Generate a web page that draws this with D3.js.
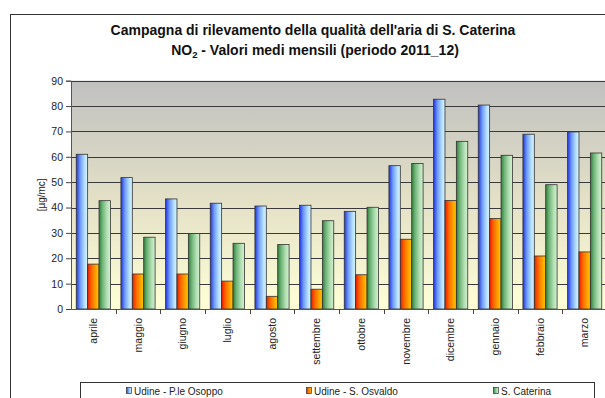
<!DOCTYPE html>
<html>
<head>
<meta charset="utf-8">
<script src="https://cdn.jsdelivr.net/npm/d3@7"></script>
<style>
  html, body { margin: 0; padding: 0; background: #fff; }
  svg { display: block; font-family: "Liberation Sans", Arial, sans-serif; }
</style>
</head>
<body>
<svg id="chart" width="605" height="398"></svg>
<script>
// Monthly means of NO2 (µg/mc), April 2011 – March 2012
const months = ["aprile", "maggio", "giugno", "luglio", "agosto", "settembre",
                "ottobre", "novembre", "dicembre", "gennaio", "febbraio", "marzo"];
const seriesNames = ["Udine - P.le Osoppo", "Udine - S. Osvaldo", "S. Caterina"];
const osoppo  = [61.0, 51.8, 43.4, 41.7, 40.6, 40.9, 38.5, 56.5, 82.7, 80.4, 68.9, 69.8];
const osvaldo = [17.7, 13.8, 13.8, 11.0,  5.0,  7.8, 13.5, 27.5, 42.8, 35.7, 20.9, 22.5];
const caterina = [42.7, 28.3, 29.8, 25.9, 25.4, 34.8, 40.1, 57.4, 66.1, 60.6, 49.0, 61.5];
const yTicks = [0, 10, 20, 30, 40, 50, 60, 70, 80, 90];

const seriesValues = [osoppo, osvaldo, caterina];

const svg = d3.select("#chart");
const margin = { left: 71, right: 607, top: 80.7, bottom: 309 };

// gradients
const defs = svg.append("defs");
const bg = defs.append("linearGradient").attr("id", "plotBg")
  .attr("x1", 0).attr("y1", 0).attr("x2", 0).attr("y2", 1);
bg.append("stop").attr("offset", "0%").attr("stop-color", "#c0c0c0");
bg.append("stop").attr("offset", "50%").attr("stop-color", "#e2dfc6");
bg.append("stop").attr("offset", "100%").attr("stop-color", "#ffffd6");

const barStops = [
  [["0%", "#2233dd"], ["35%", "#6f9cf6"], ["75%", "#b8e2ff"], ["100%", "#d8f4ff"]],
  [["0%", "#ee1a00"], ["35%", "#ff6a00"], ["75%", "#ffa800"], ["100%", "#ffc800"]],
  [["0%", "#2f7d3a"], ["30%", "#6fb478"], ["70%", "#b4e0b4"], ["100%", "#d4f0d0"]]
];
barStops.forEach((stops, i) => {
  const g = defs.append("linearGradient").attr("id", "bar" + i)
    .attr("x1", 0).attr("y1", 0).attr("x2", 1).attr("y2", 0);
  stops.forEach(s => g.append("stop").attr("offset", s[0]).attr("stop-color", s[1]));
});

// outer frame
svg.append("rect").attr("x", 10.5).attr("y", 14.5).attr("width", 620).attr("height", 420)
  .attr("fill", "#fff").attr("stroke", "#333").attr("stroke-width", 1);

// titles
svg.append("text").attr("x", 313).attr("y", 35).attr("text-anchor", "middle")
  .attr("font-size", "14px").attr("font-weight", "bold").attr("fill", "#111")
  .text("Campagna di rilevamento della qualità dell'aria di S. Caterina");
const t2 = svg.append("text").attr("x", 315).attr("y", 55).attr("text-anchor", "middle")
  .attr("font-size", "14px").attr("font-weight", "bold").attr("fill", "#111");
t2.append("tspan").text("NO");
t2.append("tspan").attr("font-size", "9.5px").attr("dy", 3).text("2");
t2.append("tspan").attr("dy", -3).text(" - Valori medi mensili (periodo 2011_12)");

// scales
const x0 = d3.scaleBand().domain(months).range([margin.left, margin.right]).padding(0);
const x1 = d3.scaleBand().domain(d3.range(3)).range([0, x0.bandwidth()])
  .paddingInner(0).paddingOuter(0.46);
const y = d3.scaleLinear().domain([0, 90]).range([margin.bottom, margin.top]);

// plot area
svg.append("rect").attr("x", margin.left).attr("y", margin.top)
  .attr("width", margin.right - margin.left).attr("height", margin.bottom - margin.top)
  .attr("fill", "url(#plotBg)");

// gridlines
svg.append("g").selectAll("line").data(yTicks.filter(d => d > 0)).join("line")
  .attr("x1", margin.left).attr("x2", margin.right)
  .attr("y1", d => Math.round(y(d)) + 0.5).attr("y2", d => Math.round(y(d)) + 0.5)
  .attr("stroke", "#3a3a3a").attr("stroke-width", 1);

// bars
const groups = svg.append("g").selectAll("g").data(months).join("g")
  .attr("transform", d => `translate(${x0(d)},0)`);
groups.selectAll("rect").data((m, i) => seriesValues.map((vals, s) => ({ s, v: vals[i] })))
  .join("rect")
  .attr("x", d => x1(d.s))
  .attr("y", d => y(d.v))
  .attr("width", x1.bandwidth())
  .attr("height", d => y(0) - y(d.v))
  .attr("fill", d => `url(#bar${d.s})`)
  .attr("stroke", "#333").attr("stroke-width", 0.8);

// y axis
const yAxis = d3.axisLeft(y).tickValues(yTicks).tickSize(5).tickPadding(3);
const gy = svg.append("g").attr("transform", `translate(${margin.left},0)`).call(yAxis);
gy.select(".domain").attr("stroke", "#555");
gy.selectAll(".tick line").attr("stroke", "#444");
gy.selectAll("text").attr("font-size", "10.5px").attr("fill", "#222")
  .attr("font-family", "Liberation Sans, Arial, sans-serif");

svg.append("text").attr("transform", `translate(45,${(margin.top + margin.bottom) / 2}) rotate(-90)`)
  .attr("text-anchor", "middle").attr("font-size", "10px").attr("fill", "#222")
  .text("[µg/mc]");

// x axis
const xAxis = d3.axisBottom(x0).tickSize(0).tickPadding(0);
const gx = svg.append("g").attr("transform", `translate(0,${margin.bottom})`).call(xAxis);
gx.select(".domain").attr("stroke", "#555");
gx.selectAll(".tick text")
  .attr("font-size", "10.5px").attr("fill", "#222")
  .attr("font-family", "Liberation Sans, Arial, sans-serif")
  .attr("transform", "rotate(-90)")
  .attr("text-anchor", "end").attr("dy", "0.35em").attr("x", -9).attr("y", 0);
// category separator ticks
svg.append("g").selectAll("line").data(months.slice(1)).join("line")
  .attr("x1", d => Math.round(x0(d)) + 0.5).attr("x2", d => Math.round(x0(d)) + 0.5)
  .attr("y1", margin.bottom).attr("y2", margin.bottom + 5)
  .attr("stroke", "#444");

// legend
const lg = svg.append("g");
lg.append("rect").attr("x", 80.5).attr("y", 382.5).attr("width", 514).attr("height", 30)
  .attr("fill", "#fff").attr("stroke", "#333");
const legendX = [126, 306, 493];
seriesNames.forEach((name, i) => {
  lg.append("rect").attr("x", legendX[i] + 0.5).attr("y", 387.5).attr("width", 5).attr("height", 6)
    .attr("fill", `url(#bar${i})`).attr("stroke", "#333").attr("stroke-width", 0.7);
  lg.append("text").attr("x", legendX[i] + 8).attr("y", 394.5).attr("font-size", "10px")
    .attr("fill", "#222").text(name);
});
</script>
</body>
</html>
